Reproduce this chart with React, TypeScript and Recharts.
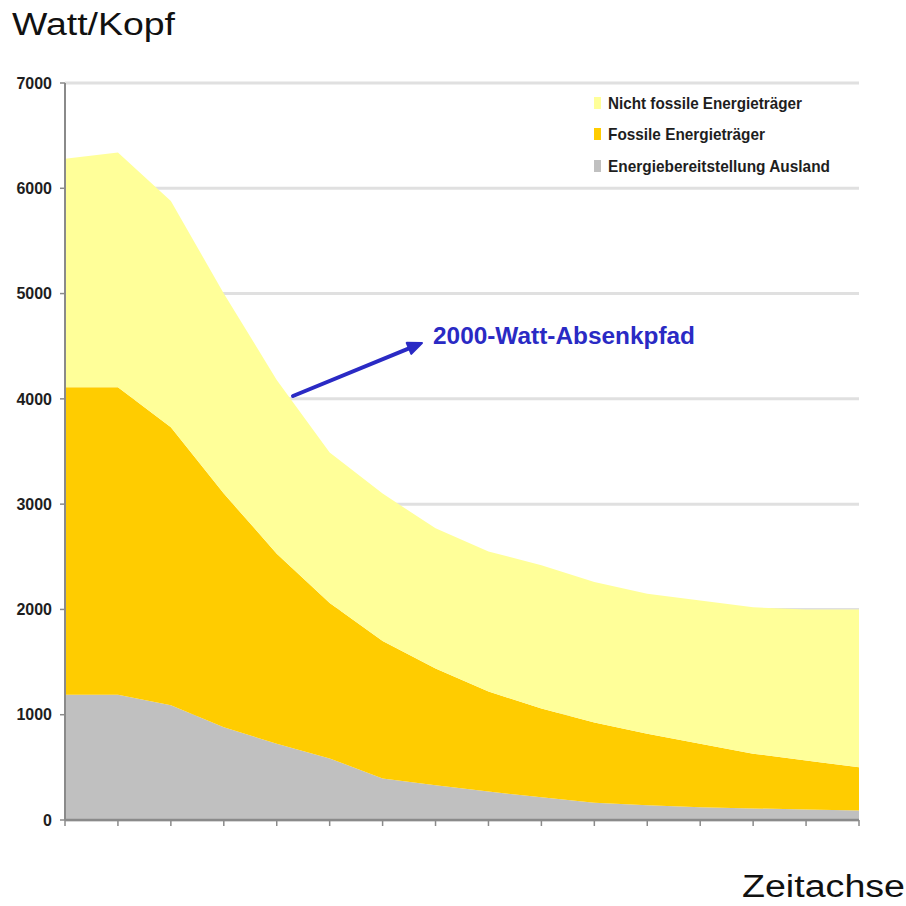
// Stacked area chart: Watt per person along the 2000-watt reduction path.
// Three stacked layers (Ausland at the bottom, fossil, non-fossil on top),
// no category labels on the time axis, annotation arrow drawn as an overlay.

import { Area, AreaChart, CartesianGrid, XAxis, YAxis } from "recharts";

const periods = [
  "P01", "P02", "P03", "P04", "P05", "P06", "P07", "P08",
  "P09", "P10", "P11", "P12", "P13", "P14", "P15", "P16",
];
const auslandValues = [1190, 1190, 1090, 880, 725, 585, 395, 330, 270, 215, 165, 140, 120, 110, 100, 90];
const fossilValues = [2920, 2920, 2640, 2220, 1805, 1475, 1305, 1110, 950, 845, 760, 680, 605, 520, 465, 410];
const nonFossilValues = [2170, 2230, 2150, 1900, 1650, 1430, 1400, 1330, 1330, 1360, 1335, 1330, 1360, 1390, 1435, 1500];
const yTicks = [0, 1000, 2000, 3000, 4000, 5000, 6000, 7000];

const series = [
  { key: "ausland", name: "Energiebereitstellung Ausland", color: "#c0c0c0" },
  { key: "fossil", name: "Fossile Energieträger", color: "#ffcc00" },
  { key: "nonFossil", name: "Nicht fossile Energieträger", color: "#ffff99" },
];

const FONT = "'Liberation Sans', Arial, Helvetica, sans-serif";
const AXIS_GREY = "#8a8a8a";
const BLUE = "#2a2ac4";

const data = periods.map((p, i) => ({
  period: p,
  ausland: auslandValues[i],
  fossil: fossilValues[i],
  nonFossil: nonFossilValues[i],
}));

// legend rows, top to bottom (reverse of stacking order)
const legendRows = [
  { s: series[2], baseline: 109, len: 194 },
  { s: series[1], baseline: 140, len: 157 },
  { s: series[0], baseline: 172, len: 222 },
];

export default function App() {
  return (
    <div style={{ position: "absolute", left: 0, top: 0, width: 906, height: 906, background: "#fff" }}>
      <AreaChart
        width={906}
        height={906}
        data={data}
        margin={{ top: 83, right: 47, bottom: 66, left: 0 }}
      >
        <CartesianGrid vertical={false} stroke="#e0e0e0" strokeWidth={3} />
        <XAxis
          dataKey="period"
          interval={0}
          height={20}
          tickSize={6}
          tickFormatter={() => ""}
          axisLine={{ stroke: AXIS_GREY, strokeWidth: 2.5 }}
          tickLine={{ stroke: AXIS_GREY, strokeWidth: 1.5 }}
        />
        <YAxis
          width={65}
          domain={[0, 7000]}
          ticks={yTicks}
          interval={0}
          tickSize={5}
          tickMargin={8}
          axisLine={{ stroke: AXIS_GREY, strokeWidth: 2 }}
          tickLine={{ stroke: AXIS_GREY, strokeWidth: 1.5 }}
          tick={{ fill: "#1e1e1e", fontSize: 16, fontWeight: 700, fontFamily: FONT }}
        />
        {series.map((s) => (
          <Area
            key={s.key}
            dataKey={s.key}
            name={s.name}
            stackId="1"
            type="linear"
            stroke="none"
            fill={s.color}
            fillOpacity={1}
            isAnimationActive={false}
          />
        ))}
      </AreaChart>

      {/* titles, legend and the annotation arrow */}
      <svg
        width={906}
        height={906}
        style={{ position: "absolute", left: 0, top: 0, pointerEvents: "none" }}
      >
        <text x={12} y={35} fontFamily={FONT} fontSize={31} fill="#111" textLength={163} lengthAdjust="spacingAndGlyphs">
          Watt/Kopf
        </text>
        <text x={742} y={897} fontFamily={FONT} fontSize={31} fill="#111" textLength={163} lengthAdjust="spacingAndGlyphs">
          Zeitachse
        </text>

        {legendRows.map(({ s, baseline, len }) => (
          <g key={s.key}>
            <rect x={594} y={baseline - 12} width={7} height={12} fill={s.color} />
            <text
              x={608}
              y={baseline}
              fontFamily={FONT}
              fontSize={17}
              fontWeight={700}
              fill="#1e1e1e"
              textLength={len}
              lengthAdjust="spacingAndGlyphs"
            >
              {s.name}
            </text>
          </g>
        ))}

        <line x1={293} y1={396} x2={409} y2={348.3} stroke={BLUE} strokeWidth={4} strokeLinecap="round" />
        <polygon points="422,343 411.3,353.9 406.7,342.8" fill={BLUE} stroke={BLUE} strokeWidth={2} strokeLinejoin="round" />
        <text
          x={433}
          y={344}
          fontFamily={FONT}
          fontSize={23}
          fontWeight={700}
          fill={BLUE}
          textLength={262}
          lengthAdjust="spacingAndGlyphs"
        >
          2000-Watt-Absenkpfad
        </text>
      </svg>
    </div>
  );
}
